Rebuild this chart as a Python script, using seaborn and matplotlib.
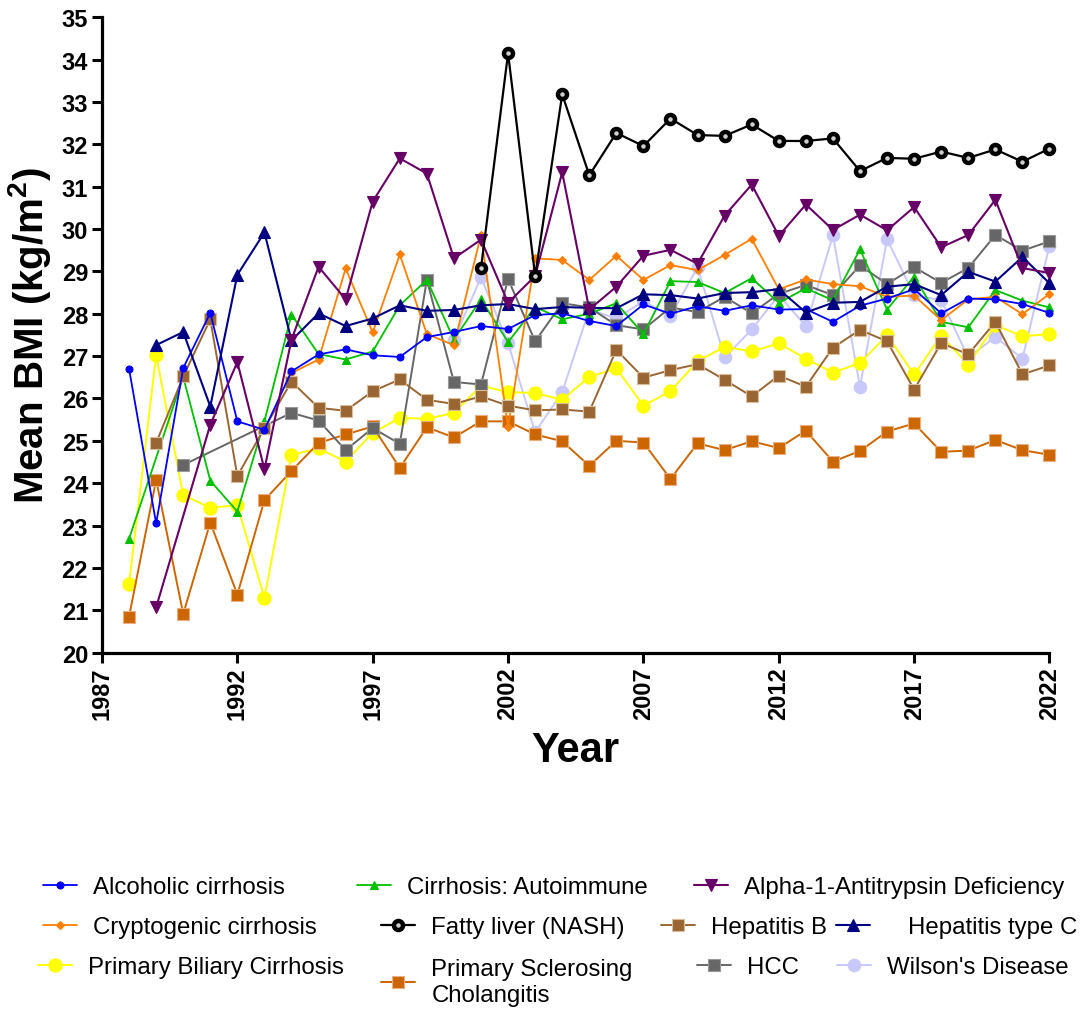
import numpy as np
import pandas as pd
import matplotlib
matplotlib.use("Agg")
import matplotlib.pyplot as plt
import seaborn as sns

nan = np.nan
years = list(range(1988, 2023))

alcoholic = [26.70, 23.05, 26.72, 28.02, 25.46, 25.26, 26.64, 27.04, 27.16, 27.02,
             26.98, 27.45, 27.57, 27.71, 27.64, 27.97, 28.01, 27.83, 27.71, 28.22,
             28.00, 28.18, 28.07, 28.20, 28.10, 28.11, 27.81, 28.19, 28.36, 28.58,
             28.01, 28.36, 28.34, 28.23, 28.02]
autoimmune = [22.69, nan, 26.51, 24.06, 23.33, 25.46, 27.98, 27.05, 26.92, 27.11,
              28.20, 28.80, 27.39, 28.34, 27.33, 28.16, 27.87, 28.00, 28.25, 27.52,
              28.77, 28.75, 28.49, 28.84, 28.26, 28.60, 28.32, 29.52, 28.10, 28.88,
              27.81, 27.68, 28.56, 28.31, 28.15]
alpha1 = [nan, 21.07, nan, 25.38, 26.86, 24.33, 27.39, 29.11, 28.34, 30.65,
          31.67, 31.31, 29.31, 29.75, 28.26, 28.89, 31.34, 28.10, 28.64, 29.37,
          29.51, 29.18, 30.32, 31.05, 29.84, 30.58, 29.98, 30.34, 29.97, 30.52,
          29.57, 29.86, 30.69, 29.08, 28.96]
cryptogenic = [nan, nan, nan, nan, nan, nan, 26.60, 26.92, 29.07, 27.56,
               29.40, 27.52, 27.26, 29.86, 25.32, 29.31, 29.27, 28.80, 29.37, 28.80,
               29.15, 29.03, 29.39, 29.77, 28.58, 28.81, 28.70, 28.65, 28.40, 28.43,
               27.85, 28.34, 28.40, 27.99, 28.47]
nash = [nan, nan, nan, nan, nan, nan, nan, nan, nan, nan,
        nan, nan, nan, 29.08, 34.15, 28.89, 33.18, 31.27, 32.27, 31.96,
        32.61, 32.22, 32.20, 32.47, 32.08, 32.08, 32.14, 31.37, 31.68, 31.66,
        31.83, 31.68, 31.88, 31.59, 31.90]
hep_b = [nan, 24.95, 26.52, 27.87, 24.17, 25.30, 26.40, 25.78, 25.71, 26.17,
         26.45, 25.97, 25.87, 26.05, 25.83, 25.72, 25.74, 25.69, 27.15, 26.49,
         26.67, 26.81, 26.44, 26.05, 26.54, 26.28, 27.20, 27.62, 27.35, 26.21,
         27.31, 27.04, 27.81, 26.57, 26.78]
hep_c = [nan, 27.26, 27.57, 25.81, 28.92, 29.92, 27.37, 28.01, 27.71, 27.89,
         28.20, 28.07, 28.09, 28.20, 28.23, 28.11, 28.16, 28.14, 28.13, 28.46,
         28.44, 28.36, 28.49, 28.51, 28.58, 28.03, 28.26, 28.28, 28.64, 28.70,
         28.44, 28.99, 28.76, 29.34, 28.72]
pbc = [21.61, 27.02, 23.72, 23.42, 23.48, 21.29, 24.67, 24.82, 24.51, 25.19,
       25.54, 25.52, 25.66, 26.30, 26.15, 26.13, 25.97, 26.51, 26.71, 25.83,
       26.17, 26.88, 27.22, 27.11, 27.30, 26.94, 26.61, 26.84, 27.49, 26.57,
       27.48, 26.80, 27.73, 27.47, 27.52]
psc = [20.85, 24.08, 20.91, 23.07, 21.37, 23.60, 24.29, 24.95, 25.15, 25.34,
       24.36, 25.32, 25.08, 25.46, 25.46, 25.15, 24.99, 24.41, 25.00, 24.96,
       24.10, 24.94, 24.78, 24.99, 24.83, 25.24, 24.51, 24.76, 25.22, 25.41,
       24.74, 24.77, 25.02, 24.78, 24.67]
hcc = [nan, nan, 24.43, nan, nan, nan, 25.66, 25.48, 24.78, 25.30,
       24.93, 28.80, 26.39, 26.33, 28.82, 27.35, 28.25, 28.15, 27.73, 27.63,
       28.15, 28.04, 28.40, 28.01, 28.47, 28.68, 28.44, 29.14, 28.70, 29.10,
       28.73, 29.08, 29.86, 29.49, 29.71]
wilson = [nan, nan, nan, nan, nan, nan, nan, nan, nan, nan,
          nan, nan, 27.39, 28.86, 27.31, 25.20, 26.15, 28.10, 27.89, 28.30,
          27.95, 29.10, 26.97, 27.63, 28.44, 27.71, 29.85, 26.28, 29.76, 28.44,
          28.32, 26.97, 27.45, 26.94, 29.61]

x_ticks = [1987, 1992, 1997, 2002, 2007, 2012, 2017, 2022]
y_ticks = list(range(20, 36))

series = {
    "Alcoholic cirrhosis": alcoholic,
    "Cirrhosis: Autoimmune": autoimmune,
    "Alpha-1-Antitrypsin Deficiency": alpha1,
    "Cryptogenic cirrhosis": cryptogenic,
    "Fatty liver (NASH)": nash,
    "Hepatitis B": hep_b,
    "Hepatitis type C": hep_c,
    "Primary Biliary Cirrhosis": pbc,
    "Primary Sclerosing\nCholangitis": psc,
    "HCC": hcc,
    "Wilson's Disease": wilson,
}

styles = {
    "Alcoholic cirrhosis": dict(color="#0000FF", marker="o", markersize=5, lw=1.3, mec="#0000FF", mfc="#0000FF", z=5),
    "Cirrhosis: Autoimmune": dict(color="#00C000", marker="^", markersize=5.5, lw=1.3, mec="#00C000", mfc="#00C000", z=4),
    "Alpha-1-Antitrypsin Deficiency": dict(color="#660066", marker="v", markersize=9, lw=1.5, mec="#660066", mfc="#660066", z=6),
    "Cryptogenic cirrhosis": dict(color="#FF8000", marker="D", markersize=4, lw=1.3, mec="#FF8000", mfc="#FF8000", z=4),
    "Fatty liver (NASH)": dict(color="#000000", marker="o", markersize=6.5, lw=1.6, mec="#000000", mfc="#d0d0d0", mew=3.2, z=7),
    "Hepatitis B": dict(color="#996633", marker="s", markersize=8, lw=1.4, mec="#d9bf99", mfc="#996633", z=4),
    "Hepatitis type C": dict(color="#000080", marker="^", markersize=9, lw=1.5, mec="#000080", mfc="#000080", z=5),
    "Primary Biliary Cirrhosis": dict(color="#FFFF00", marker="o", markersize=9.5, lw=1.4, mec="#FFFF00", mfc="#FFFF00", z=3),
    "Primary Sclerosing\nCholangitis": dict(color="#CC6600", marker="s", markersize=8.5, lw=1.4, mec="#e8b080", mfc="#CC6600", z=3),
    "HCC": dict(color="#666666", marker="s", markersize=8.5, lw=1.4, mec="#999999", mfc="#666666", z=3),
    "Wilson's Disease": dict(color="#C8C8FA", marker="o", markersize=9, lw=1.4, mec="#C8C8FA", mfc="#C8C8FA", z=2),
}

# legend placement (pixel positions of handle start, row centre, text gap)
legend_pos = {
    "Alcoholic cirrhosis": (43, 888, 0.7),
    "Cirrhosis: Autoimmune": (357, 888, 0.7),
    "Alpha-1-Antitrypsin Deficiency": (694, 888, 0.7),
    "Cryptogenic cirrhosis": (43, 928, 0.7),
    "Fatty liver (NASH)": (381, 928, 0.7),
    "Hepatitis B": (661, 928, 0.7),
    "Hepatitis type C": (836, 928, 1.6),
    "Primary Biliary Cirrhosis": (38, 968, 0.7),
    "Primary Sclerosing\nCholangitis": (381, 983, 0.7),
    "HCC": (697, 968, 0.7),
    "Wilson's Disease": (837, 968, 0.7),
}

sns.set_style("ticks")
plt.rcParams["font.family"] = ["Liberation Sans", "DejaVu Sans"]
plt.rcParams["mathtext.fontset"] = "custom"
plt.rcParams["mathtext.rm"] = "Liberation Sans:bold"
plt.rcParams["mathtext.bf"] = "Liberation Sans:bold"
plt.rcParams["mathtext.it"] = "Liberation Sans:bold"
for key in ["text.color", "axes.labelcolor", "xtick.color", "ytick.color"]:
    plt.rcParams[key] = "black"

W, H = 1092, 1020
fig = plt.figure(figsize=(W / 100, H / 100), dpi=100)
ax = fig.add_axes([102 / W, 1 - 653.6 / H, (1049.5 - 102) / W, (653.6 - 18.3) / H])

handles = {}
for name, vals in series.items():
    st = styles[name]
    df = pd.DataFrame({"Year": years, "BMI": vals}).dropna()
    sns.lineplot(data=df, x="Year", y="BMI", ax=ax, color=st["color"],
                 marker=st["marker"], markersize=st["markersize"], linewidth=st["lw"],
                 markeredgecolor=st["mec"], markerfacecolor=st["mfc"],
                 markeredgewidth=st.get("mew", 0.8), zorder=st["z"], clip_on=False,
                 errorbar=None, legend=False)
    handles[name] = ax.lines[-1]

ax.set_xlim(1987, 2022)
ax.set_ylim(20, 35)
ax.set_xticks(x_ticks)
ax.set_xticklabels([str(t) for t in x_ticks], rotation=90, fontsize=17, fontweight="bold")
ax.set_yticks(y_ticks)
ax.set_yticklabels([str(t) for t in y_ticks], fontsize=17, fontweight="bold")
ax.tick_params(axis="both", length=7, width=2.2, direction="out", pad=3, color="black")
for side in ["left", "bottom"]:
    ax.spines[side].set_linewidth(2.3)
    ax.spines[side].set_color("black")
sns.despine(ax=ax)
ax.grid(False)

ax.set_xlabel("Year", fontsize=30, fontweight="bold", labelpad=8)
ax.set_ylabel("Mean BMI (kg/m$^{2}$)", fontsize=29, fontweight="bold", labelpad=6)

for name, (px, py, tp) in legend_pos.items():
    fig.legend([handles[name]], [name], loc="center left",
               bbox_to_anchor=(px / W, 1 - py / H), frameon=False,
               borderpad=0, borderaxespad=0, handlelength=1.4,
               handletextpad=tp, fontsize=17.3)

fig.savefig("out.png", dpi=100)
